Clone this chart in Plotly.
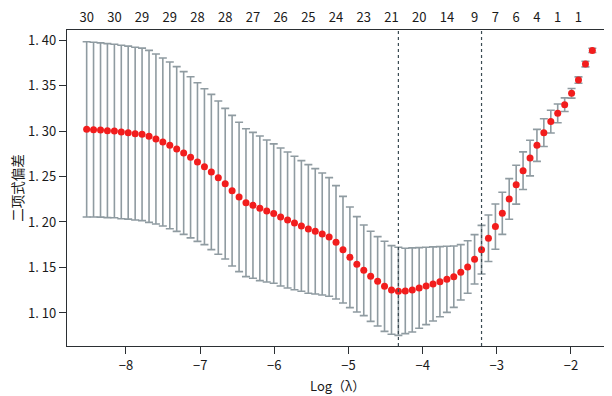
import plotly.graph_objects as go

# log(lambda) for each fitted lambda
log_lambda = [
    -8.530, -8.437, -8.343, -8.250, -8.156, -8.063, -7.970, -7.876, -7.783, -7.689,
    -7.596, -7.503, -7.409, -7.316, -7.222, -7.129, -7.036, -6.942, -6.849, -6.755,
    -6.662, -6.569, -6.475, -6.382, -6.288, -6.195, -6.102, -6.008, -5.915, -5.821,
    -5.728, -5.635, -5.541, -5.448, -5.354, -5.261, -5.168, -5.074, -4.981, -4.887,
    -4.794, -4.701, -4.607, -4.514, -4.420, -4.327, -4.234, -4.140, -4.047, -3.953,
    -3.860, -3.767, -3.673, -3.580, -3.486, -3.393, -3.300, -3.206, -3.113, -3.019,
    -2.926, -2.833, -2.739, -2.646, -2.552, -2.459, -2.366, -2.272, -2.179, -2.085,
    -1.992, -1.899, -1.805, -1.712,
]

# mean binomial deviance
cv_mean = [
    1.3018, 1.3015, 1.3011, 1.3004, 1.3000, 1.2989, 1.2982, 1.2971, 1.2963, 1.2941,
    1.2912, 1.2879, 1.2842, 1.2802, 1.2758, 1.2711, 1.2659, 1.2608, 1.2549, 1.2487,
    1.2421, 1.2344, 1.2275, 1.2212, 1.2183, 1.2150, 1.2121, 1.2092, 1.2055, 1.2022,
    1.1989, 1.1956, 1.1923, 1.1897, 1.1868, 1.1835, 1.1777, 1.1696, 1.1612, 1.1535,
    1.1469, 1.1403, 1.1348, 1.1293, 1.1253, 1.1238, 1.1242, 1.1253, 1.1275, 1.1297,
    1.1319, 1.1344, 1.1370, 1.1399, 1.1447, 1.1505, 1.1590, 1.1696, 1.1821, 1.1949,
    1.2095, 1.2253, 1.2410, 1.2564, 1.2703, 1.2842, 1.2982, 1.3103, 1.3194, 1.3289,
    1.3414, 1.3560, 1.3736, 1.3886,
]

# standard error (half-length of each bar)
cv_sd = [
    0.0963, 0.0961, 0.0958, 0.0956, 0.0954, 0.0953, 0.0951, 0.0950, 0.0948, 0.0945,
    0.0934, 0.0923, 0.0916, 0.0905, 0.0894, 0.0886, 0.0872, 0.0857, 0.0853, 0.0842,
    0.0828, 0.0828, 0.0821, 0.0813, 0.0802, 0.0795, 0.0780, 0.0766, 0.0758, 0.0747,
    0.0733, 0.0718, 0.0707, 0.0689, 0.0670, 0.0652, 0.0623, 0.0586, 0.0553, 0.0524,
    0.0498, 0.0495, 0.0491, 0.0495, 0.0487, 0.0484, 0.0469, 0.0462, 0.0443, 0.0425,
    0.0407, 0.0385, 0.0363, 0.0337, 0.0304, 0.0289, 0.0271, 0.0267, 0.0256, 0.0249,
    0.0231, 0.0223, 0.0214, 0.0207, 0.0196, 0.0176, 0.0152, 0.0125, 0.0103, 0.0075,
    0.0053, 0.0035, 0.0031, 0.0024,
]

# number of non-zero coefficients shown on the top axis
top_label_index = [0, 4, 8, 12, 16, 20, 24, 28, 32, 36, 40, 44, 48, 52, 56, 59, 62, 65, 68, 71]
top_label_text = ["30", "30", "29", "29", "28", "28", "27", "26", "25", "24",
                  "23", "21", "20", "14", "9", "7", "6", "4", "1", "1"]

# lambda.min and lambda.1se positions
lambda_min_index = 45
lambda_1se_index = 57

x_tick_vals = [-8, -7, -6, -5, -4, -3, -2]
x_tick_text = ["\u22128", "\u22127", "\u22126", "\u22125", "\u22124", "\u22123", "\u22122"]
y_tick_vals = [1.10, 1.15, 1.20, 1.25, 1.30, 1.35, 1.40]
y_tick_text = ["1. 10", "1. 15", "1. 20", "1. 25", "1. 30", "1. 35", "1. 40"]

FONT = "Noto Sans CJK SC, Noto Sans, sans-serif"
X_RANGE = [-8.795, -1.501]
Y_RANGE = [1.0637, 1.411]

fig = go.Figure()

fig.add_trace(go.Scatter(
    x=log_lambda, y=cv_mean, mode="markers",
    marker=dict(color="#f21d1d", size=7, line=dict(width=0)),
    error_y=dict(type="data", array=cv_sd, symmetric=True,
                 color="#8f9ba1", thickness=1.6, width=4),
    showlegend=False, hoverinfo="skip", cliponaxis=False,
))

# invisible trace to carry the top axis
fig.add_trace(go.Scatter(
    x=[log_lambda[0], log_lambda[-1]], y=[cv_mean[0], cv_mean[-1]],
    xaxis="x2", mode="markers", marker=dict(opacity=0),
    showlegend=False, hoverinfo="skip",
))

for idx in (lambda_min_index, lambda_1se_index):
    fig.add_shape(type="line", xref="x", yref="paper",
                  x0=log_lambda[idx], x1=log_lambda[idx], y0=0, y1=1,
                  line=dict(color="#3a4a52", width=1.2, dash="dot"))

axis_color = "#2b2f33"
# the page body adds an 8px margin, so the figure is 8px smaller than the window
fig.update_layout(
    width=604, height=388,
    margin=dict(l=59, r=4, t=22, b=50, autoexpand=False),
    paper_bgcolor="white", plot_bgcolor="white",
    font=dict(family=FONT, size=12, color="#1a1a1a"),
    xaxis=dict(range=X_RANGE, tickvals=x_tick_vals, ticktext=x_tick_text,
               showgrid=False, zeroline=False, showline=True, linecolor=axis_color,
               linewidth=1.3, mirror=True, ticks="outside", ticklen=7,
               tickwidth=1.3, tickcolor=axis_color, tickfont=dict(size=13),
               automargin=False),
    xaxis2=dict(range=X_RANGE, overlaying="x", side="top",
                tickvals=[log_lambda[i] for i in top_label_index],
                ticktext=top_label_text, showgrid=False, zeroline=False,
                showline=False, ticks="", tickfont=dict(size=13),
                ticklabelstandoff=4, automargin=False),
    yaxis=dict(range=Y_RANGE, tickvals=y_tick_vals, ticktext=y_tick_text,
               showgrid=False, zeroline=False, showline=True, linecolor=axis_color,
               linewidth=1.3, mirror=True, ticks="outside", ticklen=7,
               tickwidth=1.3, tickcolor=axis_color, tickfont=dict(size=13),
               automargin=False),
    annotations=[
        dict(text="Log（λ）", x=0.5, y=-0.124, xref="paper", yref="paper",
             showarrow=False, xanchor="center", yanchor="middle", font=dict(size=13)),
        dict(text="二项式偏差", x=-0.093, y=0.5, xref="paper", yref="paper",
             showarrow=False, xanchor="center", yanchor="middle",
             textangle=-90, font=dict(size=13.5)),
    ],
)

fig.write_html("out.html")
